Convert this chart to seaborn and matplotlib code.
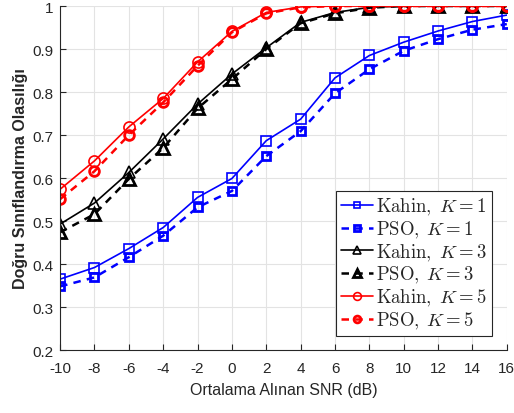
import matplotlib
matplotlib.use("Agg")
import matplotlib.pyplot as plt
import seaborn as sns
import pandas as pd

snr = [-10, -8, -6, -4, -2, 0, 2, 4, 6, 8, 10, 12, 14, 16]

kahin_k1 = [0.365, 0.392, 0.436, 0.485, 0.555, 0.599, 0.687, 0.737, 0.833, 0.885, 0.916, 0.942, 0.964, 0.979]
pso_k1   = [0.348, 0.369, 0.416, 0.466, 0.532, 0.570, 0.651, 0.709, 0.797, 0.853, 0.896, 0.923, 0.945, 0.958]
kahin_k3 = [0.493, 0.542, 0.613, 0.691, 0.772, 0.842, 0.903, 0.962, 0.985, 0.997, 1.0, 1.0, 1.0, 1.0]
pso_k3   = [0.474, 0.516, 0.598, 0.670, 0.762, 0.830, 0.900, 0.960, 0.983, 0.996, 1.0, 1.0, 1.0, 1.0]
kahin_k5 = [0.574, 0.640, 0.719, 0.785, 0.870, 0.941, 0.985, 0.998, 1.0, 1.0, 1.0, 1.0, 1.0, 1.0]
pso_k5   = [0.551, 0.616, 0.700, 0.776, 0.861, 0.939, 0.983, 0.997, 1.0, 1.0, 1.0, 1.0, 1.0, 1.0]

labels = [r"$\mathrm{Kahin,}\;K=1$", r"$\mathrm{PSO,}\;K=1$", r"$\mathrm{Kahin,}\;K=3$",
          r"$\mathrm{PSO,}\;K=3$", r"$\mathrm{Kahin,}\;K=5$", r"$\mathrm{PSO,}\;K=5$"]
series = [kahin_k1, pso_k1, kahin_k3, pso_k3, kahin_k5, pso_k5]

xticks = [-10, -8, -6, -4, -2, 0, 2, 4, 6, 8, 10, 12, 14, 16]
yticks = [0.2, 0.3, 0.4, 0.5, 0.6, 0.7, 0.8, 0.9, 1.0]
ytick_labels = ["0.2", "0.3", "0.4", "0.5", "0.6", "0.7", "0.8", "0.9", "1"]

sns.set_style("white")
plt.rcParams["font.family"] = ["Liberation Sans", "DejaVu Sans"]
plt.rcParams["mathtext.fontset"] = "cm"

fig = plt.figure(figsize=(5.14, 4.14), dpi=100)
ax = fig.add_axes([0.117, 0.152, 0.869, 0.831])

styles = [
    dict(color="#0000ff", ls="-", marker="s", lw=1.2, mew=1.2, ms=7),
    dict(color="#0000ff", ls=(0, (3, 2.5)), marker="s", lw=1.8, mew=2.0, ms=6),
    dict(color="black", ls="-", marker="^", lw=1.2, mew=1.2, ms=9),
    dict(color="black", ls=(0, (3, 2.5)), marker="^", lw=1.8, mew=2.0, ms=8),
    dict(color="#ff0000", ls="-", marker="o", lw=1.2, mew=1.2, ms=8),
    dict(color="#ff0000", ls=(0, (3, 2.5)), marker="o", lw=1.8, mew=2.0, ms=7),
]

for lab, vals, st in zip(labels, series, styles):
    df = pd.DataFrame({"snr": snr, "p": vals})
    sns.lineplot(data=df, x="snr", y="p", ax=ax, color=st["color"], linestyle=st["ls"],
                 marker=st["marker"], linewidth=st["lw"], markeredgewidth=st["mew"],
                 markersize=st["ms"], markerfacecolor="none", markeredgecolor=st["color"],
                 label=lab)

ax.set_xlim(-10, 16)
ax.set_ylim(0.2, 1.0)
ax.set_xticks(xticks)
ax.set_xticklabels([str(t) for t in xticks])
ax.set_yticks(yticks)
ax.set_yticklabels(ytick_labels)
ax.grid(True, color="#e3e3e3", lw=0.8)
ax.set_axisbelow(True)
for s in ["top", "right"]:
    ax.spines[s].set_visible(False)
for s in ["left", "bottom"]:
    ax.spines[s].set_color("#262626")
    ax.spines[s].set_linewidth(0.8)
ax.tick_params(axis="both", direction="in", length=4, width=0.8, color="#262626",
               labelsize=11, labelcolor="#262626", bottom=True, left=True)
ax.tick_params(axis="x", pad=8)
ax.tick_params(axis="y", pad=5)
ax.set_xlabel("Ortalama Alınan SNR (dB)", fontsize=11.5, color="#262626", labelpad=5)
ax.set_ylabel("Doğru Sınıflandırma Olasılığı", fontsize=11.5, fontweight="bold",
              color="#262626", labelpad=3)

leg = ax.legend(loc="lower right", bbox_to_anchor=(0.966, 0.041), prop={"size": 13.5},
                frameon=True, fancybox=False, edgecolor="#262626", framealpha=1,
                handlelength=1.7, handletextpad=0.2, borderpad=0.25, labelspacing=0.1,
                borderaxespad=0.0, markerscale=0.7)
leg.get_frame().set_linewidth(0.8)

fig.savefig("out.png", dpi=100)
